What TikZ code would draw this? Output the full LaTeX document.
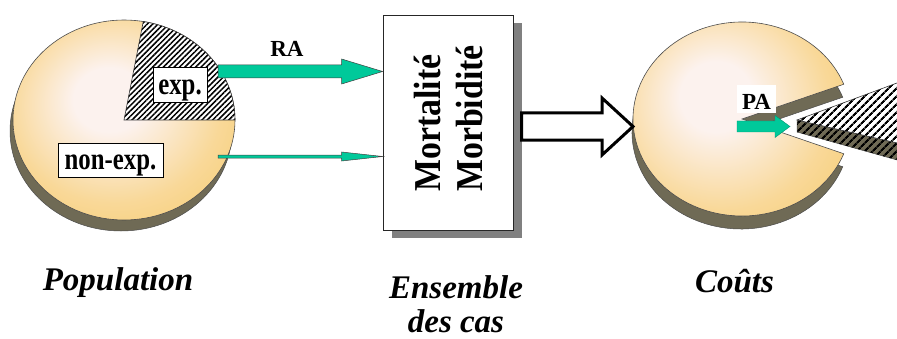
\documentclass[tikz,border=0pt]{standalone}
\usepackage{fontspec}
\setmainfont{Liberation Serif}
\usepackage{graphicx}
\usetikzlibrary{calc,patterns.meta,shadows}

\definecolor{piein}{HTML}{FCF2EE}
\definecolor{pieout}{HTML}{F6C352}
\colorlet{piemid}{pieout!55!piein}
\colorlet{pierim}{pieout!88!piein}
\definecolor{pieside}{HTML}{6F6A55}
\definecolor{flow}{HTML}{00C99A}
\definecolor{boxshade}{HTML}{808080}

% golden pie top with a pale highlight
\pgfdeclareradialshading{pieface}{\pgfpoint{-4bp}{6bp}}{%
  color(0bp)=(piein); color(8bp)=(piein); color(24bp)=(piemid); color(40bp)=(pierim); color(52bp)=(pieout)}

% horizontal block arrow: start, tip, shaft half-width, head half-width, head length, style
\newcommand\blockarrow[6]{%
  \draw[#6] let \p1=(#1), \p2=(#2) in
    (\x1,\y1+#3pt) -- (\x2-#5pt,\y1+#3pt) -- (\x2-#5pt,\y1+#4pt) -- (\x2,\y1)
    -- (\x2-#5pt,\y1-#4pt) -- (\x2-#5pt,\y1-#3pt) -- (\x1,\y1-#3pt) -- cycle;}

\tikzset{
  face/.style={shading=pieface, draw=black!70, line width=0.6pt},
  side/.style={fill=pieside, draw=black!70, line width=0.5pt},
  finehatch/.style={pattern={Lines[angle=45,distance=3.8pt,line width=1.5pt]}, pattern color=black},
  widehatch/.style={pattern={Lines[angle=45,distance=5.4pt,line width=2.3pt]}, pattern color=black},
  tag/.style={draw=black, fill=white, line width=0.6pt, inner sep=0pt,
              font=\fontsize{31}{32}\selectfont\bfseries},
  flowarrow/.style={fill=flow, draw=black!75, line width=0.5pt},
  hollow/.style={fill=white, draw=black, line width=3pt, line join=miter},
  caption/.style={font=\fontsize{33}{34}\selectfont\bfseries\itshape, inner sep=0pt},
  vertical/.style={rotate=90, anchor=base west, inner sep=0pt,
                   font=\fontsize{38}{40}\selectfont\bfseries},
}

\begin{document}
\begin{tikzpicture}[x=1pt,y=1pt]
\useasboundingbox (0,0) rectangle (897,338);

% ---- population pie ----
\coordinate (popc) at (124,218);
\path[side] ($(popc)+(-3,-11)$) ellipse [x radius=111, y radius=100];
\path[face] (popc) ellipse [x radius=111, y radius=100];
\path[preaction={fill=white}, finehatch, draw=black!80, line width=0.6pt]
  (popc) -- ++(111,0) arc[start angle=0, end angle=80, x radius=111, y radius=100] -- cycle;
\node[tag, minimum width=54pt, minimum height=35pt, text height=27pt, text depth=6pt]
  (exp) at (180,253.5) {\scalebox{0.8}[1]{exp.}};
\node[tag, minimum width=105pt, minimum height=34pt, text height=26pt, text depth=6pt]
  (nonexp) at (110.5,178) {\scalebox{0.8}[1]{non-exp.}};

% ---- cases box ----
\node[draw=black!85, line width=0.8pt, fill=white, minimum width=130pt, minimum height=215pt,
      inner sep=0pt, drop shadow={shadow xshift=9pt, shadow yshift=-8pt, fill=boxshade, opacity=1}]
  (cases) at (448,215.5) {};
\node[vertical] (mort) at (440,146) {\scalebox{0.89}[1]{Mortalité}};
\node[vertical] (morb) at (482,146) {\scalebox{0.89}[1]{Morbidité}};

% ---- arrows into the box ----
\coordinate (raS) at (218,266.5);
\coordinate (neS) at (218,181.5);
\blockarrow{raS}{cases.west |- raS}{6.5}{12.5}{41}{flowarrow}
\blockarrow{neS}{cases.west |- neS}{1.5}{4.5}{41}{flowarrow}
\node[font=\fontsize{23}{24}\selectfont\bfseries, inner sep=0pt] (ra) at (287,289) {RA};

% ---- costs pie with the cut-out slice ----
\coordinate (costc) at (742,219);
\path[side] ($(costc)+(-1,-13)$) -- ++(21:109 and 97)
  arc[start angle=21, end angle=339, x radius=109, y radius=97] -- cycle;
\path[face] (costc) -- ++(21:109 and 97)
  arc[start angle=21, end angle=339, x radius=109, y radius=97] -- cycle;
\coordinate (costW) at (633,211.5);

\begin{scope}
  \clip (0,0) rectangle (897,338);
  \path[side] (797,218) -- (910,192.1) -- (910,174.4) -- (797,206) -- cycle;
  \path[widehatch] (797,218) -- (910,192.1) -- (910,174.4) -- (797,206) -- cycle;
  \path[preaction={fill=white}, widehatch, draw=black!80, line width=0.6pt]
    (797,218) -- (910,259.8) -- (910,192.1) -- cycle;
\end{scope}

% ---- arrow from the box to the costs ----
\coordinate (outS) at (521.5,211.5);
\blockarrow{outS}{costW}{13.5}{28.5}{31}{hollow}

% ---- attributable part ----
\node[fill=white, inner sep=0pt, minimum width=39pt, minimum height=28pt,
      text height=25pt, text depth=3pt, font=\fontsize{23}{24}\selectfont\bfseries]
  (pa) at (756.5,239) {PA};
\coordinate (paS) at (737,211.5);
\coordinate (paT) at (790,211.5);
\blockarrow{paS}{paT}{5.5}{11}{15}{fill=flow, draw=flow!75!black, line width=0.4pt}

% ---- captions ----
\node[caption, anchor=base] (pop) at (118,48) {Population};
\node[caption, anchor=base, align=center] (ens) at (456,6) {Ensemble\\des cas};
\node[caption, anchor=base] (couts) at (734.5,46) {Coûts};
\end{tikzpicture}
\end{document}
